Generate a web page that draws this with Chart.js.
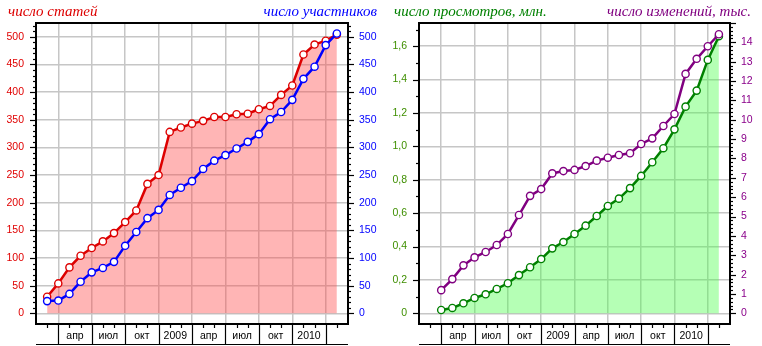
<!DOCTYPE html>
<html>
<head>
<meta charset="utf-8">
<script src="https://cdn.jsdelivr.net/npm/chart.js@4/dist/chart.umd.min.js"></script>
<style>
  html, body { margin: 0; padding: 0; background: #fff; }
  #wrap { position: relative; width: 762px; height: 346px; }
  #wrap canvas { position: absolute; top: 0; }
</style>
</head>
<body>
<div id="wrap">
  <canvas id="left" width="381" height="346" style="left:0"></canvas>
  <canvas id="right" width="381" height="346" style="left:381px"></canvas>
</div>
<script>
// Monthly totals, first day of each month
const months = [
  '2008-03','2008-04','2008-05','2008-06','2008-07','2008-08','2008-09','2008-10','2008-11','2008-12',
  '2009-01','2009-02','2009-03','2009-04','2009-05','2009-06','2009-07','2009-08','2009-09','2009-10','2009-11','2009-12',
  '2010-01','2010-02','2010-03','2010-04','2010-05'
];
const articles = [30, 54, 83, 104, 118, 130, 145, 165, 186, 234, 250, 328, 336, 343, 348, 355, 355, 360, 361, 369, 375, 395, 412, 468, 486, 493, 504];
const participants = [22, 23, 35, 57, 74, 82, 93, 122, 147, 172, 187, 214, 227, 239, 261, 276, 286, 298, 310, 324, 351, 364, 386, 424, 446, 485, 506];

const viewMonths = months.slice(1);
const views = [0.02, 0.032, 0.06, 0.092, 0.114, 0.146, 0.18, 0.229, 0.276, 0.325, 0.389, 0.427, 0.475, 0.525, 0.583, 0.643, 0.687, 0.75, 0.823, 0.905, 0.989, 1.102, 1.238, 1.334, 1.518, 1.66];
const edits = [1.20, 1.77, 2.48, 2.89, 3.17, 3.53, 4.10, 5.08, 6.07, 6.42, 7.23, 7.35, 7.41, 7.61, 7.89, 8.04, 8.18, 8.27, 8.75, 9.04, 9.68, 10.3, 12.37, 13.15, 13.8, 14.42];

// Time axis: quarter boundaries and the captions written between them
const axisStart = '2008-02';
const axisEnd = '2010-06';
const quarterStarts = ['2008-04','2008-07','2008-10','2009-01','2009-04','2009-07','2009-10','2010-01','2010-04'];
const quarterLabels = ['апр','июл','окт','2009','апр','июл','окт','2010'];

function monthIndex(m) {
  const [y, mo] = m.split('-').map(Number);
  const [y0, m0] = axisStart.split('-').map(Number);
  return (y - y0) * 12 + (mo - m0);
}

const X_MIN = monthIndex(axisStart);
const X_MAX = monthIndex(axisEnd);
const gridPos = quarterStarts.map(monthIndex);
const labelPos = quarterLabels.map((_, i) => (gridPos[i] + gridPos[i + 1]) / 2);
const labelMap = new Map(labelPos.map((v, i) => [v, quarterLabels[i]]));
const gridSet = new Set(gridPos);

const GRID = '#c6c6c6';
const SANS = '"Liberation Sans", Arial, sans-serif';
const SERIF = '"Liberation Serif", "Times New Roman", serif';

function series(ms, vals) {
  return vals.map((v, i) => ({ x: monthIndex(ms[i]), y: v }));
}

function lineSet(label, ms, vals, color, axis, fillColor, order) {
  return {
    label,
    data: series(ms, vals),
    yAxisID: axis,
    borderColor: color,
    borderWidth: 2.5,
    backgroundColor: fillColor || 'transparent',
    fill: fillColor ? 'origin' : false,
    pointRadius: 3.6,
    pointBorderWidth: 1.4,
    pointBackgroundColor: '#fff',
    pointBorderColor: color,
    tension: 0,
    order
  };
}

function xScale() {
  return {
    type: 'linear',
    min: X_MIN,
    max: X_MAX,
    afterBuildTicks: s => {
      s.ticks = [...gridPos, ...labelPos].sort((a, b) => a - b).map(v => ({ value: v }));
    },
    afterFit: s => { s.height = 22; },
    border: { display: false },
    grid: {
      drawTicks: false,
      lineWidth: 1.5,
      color: c => (c.tick && gridSet.has(c.tick.value)) ? GRID : 'rgba(0,0,0,0)'
    },
    ticks: {
      autoSkip: false,
      maxRotation: 0,
      padding: 6,
      color: '#000',
      font: { family: SANS, size: 10.5 },
      callback: v => labelMap.get(v) || ''
    }
  };
}

function yScale(pos, min, max, values, color, width, pad, fmt, showGrid) {
  return {
    type: 'linear',
    position: pos,
    min,
    max,
    afterBuildTicks: s => { s.ticks = values.map(v => ({ value: v })); },
    afterFit: s => { s.width = width; },
    border: { display: false },
    grid: { display: showGrid, drawTicks: false, lineWidth: 1.5, color: GRID },
    ticks: {
      padding: pad,
      color,
      font: { family: SANS, size: 10.5 },
      callback: fmt
    }
  };
}

function steps(from, to, step) {
  const out = [];
  for (let k = 0; from + k * step <= to + 1e-9; k++) out.push(+(from + k * step).toFixed(6));
  return out;
}

// Frame, tick marks, label cells under the time axis and the panel captions
const panelDeco = {
  id: 'panelDeco',
  afterDraw(chart, args, opts) {
    const ctx = chart.ctx;
    const a = chart.chartArea;
    const xs = chart.scales.x;
    ctx.save();
    ctx.strokeStyle = '#000';

    // tick marks on the value axes
    ctx.lineWidth = 1.2;
    opts.marks.forEach(m => {
      const sc = chart.scales[m.axis];
      const edge = m.side === 'left' ? a.left : a.right;
      const dir = m.side === 'left' ? -1 : 1;
      steps(0, sc.max, m.minor).forEach(v => {
        const y = Math.round(sc.getPixelForValue(v)) + 0.5;
        const major = Math.abs(v / m.major - Math.round(v / m.major)) < 1e-6;
        const len = major ? 6 : 3;
        ctx.beginPath();
        ctx.moveTo(edge, y);
        ctx.lineTo(edge + dir * len, y);
        ctx.stroke();
      });
    });

    // monthly ticks and quarter cells below the time axis
    const bottomLine = 345;
    ctx.lineWidth = 1.2;
    for (let i = X_MIN + 1; i < X_MAX; i++) {
      const x = Math.round(xs.getPixelForValue(i)) + 0.5;
      ctx.beginPath();
      ctx.moveTo(x, a.bottom);
      ctx.lineTo(x, gridSet.has(i) ? bottomLine : a.bottom + 4);
      ctx.stroke();
    }
    ctx.beginPath();
    ctx.moveTo(a.left, bottomLine - 0.5);
    ctx.lineTo(a.right, bottomLine - 0.5);
    ctx.stroke();

    // plot frame
    ctx.lineWidth = 2;
    ctx.strokeRect(a.left, a.top, a.right - a.left, a.bottom - a.top);

    // captions above the plot
    ctx.font = 'italic 15px ' + SERIF;
    ctx.textBaseline = 'alphabetic';
    opts.titles.forEach(t => {
      ctx.fillStyle = t.color;
      ctx.textAlign = t.align;
      ctx.fillText(t.text, t.x, 16);
    });
    ctx.restore();
  }
};

const common = {
  responsive: false,
  animation: false,
  events: [],
  layout: { padding: { top: 23, left: 0, right: 0, bottom: 0 } }
};

new Chart(document.getElementById('left'), {
  type: 'line',
  data: {
    datasets: [
      lineSet('число участников', months, participants, '#0000ff', 'y2', null, 0),
      lineSet('число статей', months, articles, '#dd0000', 'y', 'rgba(255,70,70,0.40)', 1)
    ]
  },
  options: {
    ...common,
    scales: {
      x: xScale(),
      y: yScale('left', -19.4, 525, steps(0, 500, 50), '#e00000', 36, 12, v => String(v), true),
      y2: yScale('right', -19.4, 525, steps(0, 500, 50), '#0000ff', 33, 11, v => String(v), false)
    },
    plugins: {
      legend: { display: false },
      tooltip: { enabled: false },
      panelDeco: {
        marks: [
          { axis: 'y', side: 'left', major: 50, minor: 10 },
          { axis: 'y2', side: 'right', major: 50, minor: 10 }
        ],
        titles: [
          { text: 'число статей', color: '#dd0000', align: 'left', x: 8 },
          { text: 'число участников', color: '#0000ff', align: 'right', x: 377 }
        ]
      }
    }
  },
  plugins: [panelDeco]
});

const commaNum = v => v === 0 ? '0' : v.toFixed(1).replace('.', ',');

new Chart(document.getElementById('right'), {
  type: 'line',
  data: {
    datasets: [
      lineSet('число изменений, тыс.', viewMonths, edits, '#800080', 'y2', null, 0),
      lineSet('число просмотров, млн.', viewMonths, views, '#008000', 'y', 'rgba(70,255,70,0.40)', 1)
    ]
  },
  options: {
    ...common,
    scales: {
      x: xScale(),
      y: yScale('left', -0.064, 1.739, steps(0, 1.6, 0.2), '#3f8f00', 38, 12, commaNum, true),
      y2: yScale('right', -0.55, 15, steps(0, 14, 1), '#8a008a', 32, 11, v => String(v), false)
    },
    plugins: {
      legend: { display: false },
      tooltip: { enabled: false },
      panelDeco: {
        marks: [
          { axis: 'y', side: 'left', major: 0.2, minor: 0.1 },
          { axis: 'y2', side: 'right', major: 1, minor: 0.2 }
        ],
        titles: [
          { text: 'число просмотров, млн.', color: '#008000', align: 'left', x: 13 },
          { text: 'число изменений, тыс.', color: '#800080', align: 'right', x: 370 }
        ]
      }
    }
  },
  plugins: [panelDeco]
});
</script>
</body>
</html>
